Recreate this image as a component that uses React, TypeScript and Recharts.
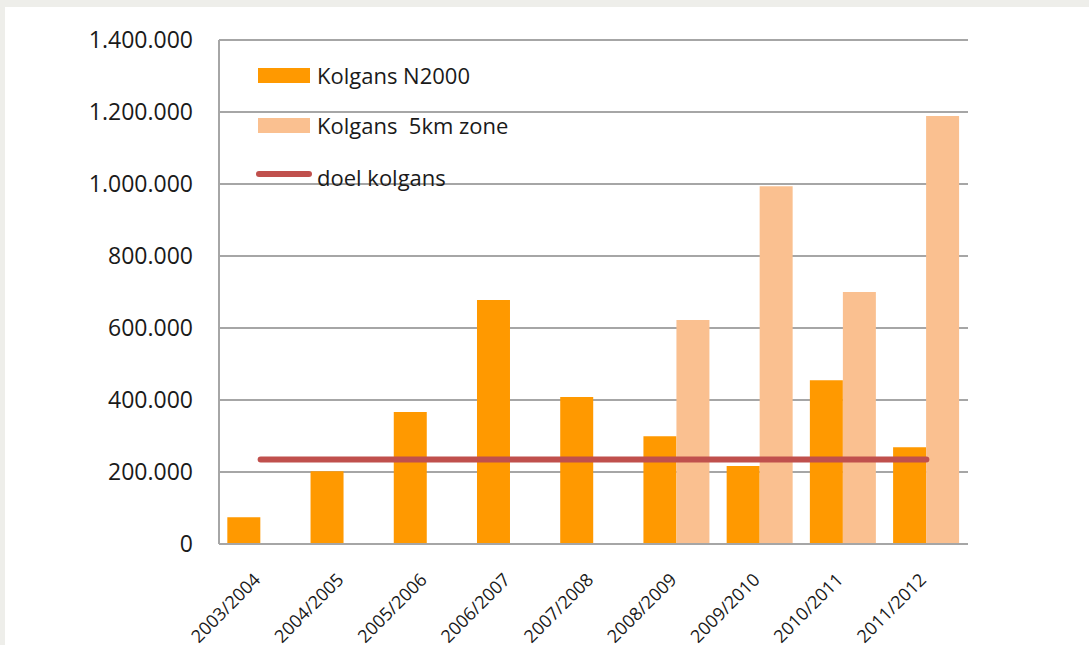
import { ComposedChart, Bar, Line, XAxis, YAxis, CartesianGrid } from "recharts";

const seasons = [
  "2003/2004", "2004/2005", "2005/2006", "2006/2007", "2007/2008",
  "2008/2009", "2009/2010", "2010/2011", "2011/2012",
];
const n2000 = [74000, 202000, 367000, 678000, 408000, 299000, 217000, 455000, 269000];
const zone5km = [null, null, null, null, null, 622000, 994000, 700000, 1189000];
const doel = [235000, 235000, 235000, 235000, 235000, 235000, 235000, 235000, 235000];
const yTicks = [0, 200000, 400000, 600000, 800000, 1000000, 1200000, 1400000];

const data = seasons.map((s, i) => ({
  season: s,
  n2000: n2000[i],
  zone5km: zone5km[i],
  doel: doel[i],
}));

const FONT = "'Open Sans', sans-serif";
const ORANGE = "#FF9900";
const PEACH = "#FAC090";
const RED = "#C0504D";
const GRID = "#A6A6A6";

const fmt = (v: number) => String(v).replace(/\B(?=(\d{3})+(?!\d))/g, ".");

function SeasonTick({ x, y, payload }: any) {
  const ax = x + 1;
  const ay = y + 29;
  return (
    <text x={ax} y={ay} transform={`rotate(-45, ${ax}, ${ay})`} textAnchor="end"
      fill="#1a1a1a" fontSize={18} fontFamily={FONT}>
      {payload.value}
    </text>
  );
}

// legend sits inside the plot, top-left, like the original
function LegendBox() {
  const row = { height: 50, display: "flex", alignItems: "center" } as const;
  const label = { marginLeft: 7, fontSize: 22, color: "#1a1a1a", whiteSpace: "pre" } as const;
  return (
    <div style={{ position: "absolute", left: 256, top: 50, fontFamily: FONT }}>
      <div style={row}>
        <div style={{ width: 52, height: 15, background: ORANGE, marginLeft: 2 }} />
        <span style={label}>Kolgans N2000</span>
      </div>
      <div style={row}>
        <div style={{ width: 52, height: 15, background: PEACH, marginLeft: 2 }} />
        <span style={label}>Kolgans  5km zone</span>
      </div>
      <div style={{ ...row, height: 48 }}>
        <div style={{ width: 56, height: 6, borderRadius: 3, background: RED }} />
        <span style={{ ...label, marginLeft: 5, marginTop: 6 }}>doel kolgans</span>
      </div>
    </div>
  );
}

export default function App() {
  return (
    <div style={{ position: "absolute", left: 0, top: 0, width: 1089, height: 645, background: "#EEEEEA" }}>
      <div style={{ position: "absolute", left: 5, top: 7, right: 0, bottom: 0, background: "#fff" }} />
      <div style={{ position: "absolute", left: 0, top: 0 }}>
        <ComposedChart width={1089} height={645} data={data}
          margin={{ top: 40, right: 121, bottom: 0, left: 0 }}
          barCategoryGap="10%" barGap={0}>
          <CartesianGrid horizontal vertical={false} stroke={GRID} strokeWidth={2} />
          <XAxis dataKey="season" height={101} tickLine={false}
            axisLine={{ stroke: GRID, strokeWidth: 2 }} tick={<SeasonTick />} interval={0} />
          <YAxis width={219} domain={[0, 1400000]} ticks={yTicks} tickLine={false} tickSize={0} tickMargin={26}
            axisLine={{ stroke: GRID, strokeWidth: 2 }} tickFormatter={fmt}
            tick={{ fill: "#1a1a1a", fontSize: 23, fontFamily: FONT }} />
          <Bar dataKey="n2000" name="Kolgans N2000" fill={ORANGE} isAnimationActive={false} />
          <Bar dataKey="zone5km" name="Kolgans  5km zone" fill={PEACH} isAnimationActive={false} />
          <Line dataKey="doel" name="doel kolgans" type="linear" stroke={RED} strokeWidth={6}
            strokeLinecap="round" dot={false} activeDot={false} isAnimationActive={false} />
        </ComposedChart>
      </div>
      <LegendBox />
    </div>
  );
}
